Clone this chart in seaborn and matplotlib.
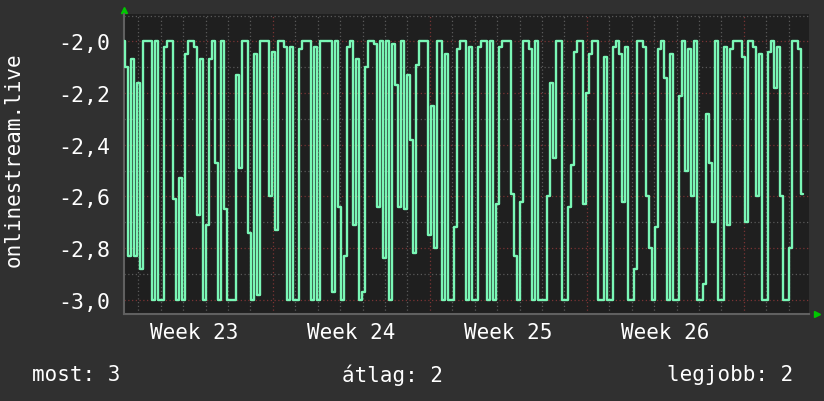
import matplotlib
matplotlib.use("Agg")
import matplotlib.pyplot as plt
import matplotlib.dates as mdates
import matplotlib.ticker as mticker
import numpy as np
import pandas as pd
import seaborn as sns

# values, one sample every ~3.2 h
values = [
    # 3 Jun -> 8 Jun
    -2.0, -2.1, -2.83, -2.07, -2.83, -2.16, -2.88, -2.0, -2.0, -2.0,
    -3.0, -2.0, -3.0, -3.0, -2.02, -2.0, -2.0, -2.61, -3.0, -2.53,
    -3.0, -2.05, -2.0, -2.0, -2.02, -2.67, -2.07, -3.0, -2.71, -2.07,
    -2.0, -2.47, -3.0, -2.0, -2.65, -3.0, -3.0, -3.0,
    # 8 Jun -> 13 Jun
    -2.13, -2.49, -2.0, -2.0, -2.74, -3.0, -2.05, -2.98, -2.0, -2.0,
    -2.0, -2.6, -2.04, -2.73, -2.0, -2.0, -2.02, -3.0, -2.02, -3.0,
    -3.0, -2.03, -2.0, -2.0, -2.0, -3.0, -2.02, -3.0, -2.0, -2.0,
    -2.0, -2.0, -2.97, -2.0, -2.64, -3.0, -2.83, -2.02, -2.0,
    # 13 Jun -> 18 Jun
    -2.71, -2.07, -3.0, -2.97, -2.1, -2.0, -2.0, -2.01, -2.64, -2.0,
    -2.84, -2.0, -3.0, -2.01, -2.17, -2.64, -2.0, -2.65, -2.13, -2.38,
    -2.82, -2.09, -2.0, -2.0, -2.0, -2.75, -2.25, -2.8, -2.0, -2.0,
    -3.0, -2.05, -3.0, -3.0, -2.72, -2.03, -2.0, -2.0,
    # 18 Jun -> 23 Jun
    -3.0, -2.02, -3.0, -3.0, -2.02, -2.0, -2.0, -3.0, -2.0, -3.0,
    -2.63, -2.02, -2.0, -2.0, -2.0, -2.59, -2.83, -3.0, -2.62, -2.0,
    -2.0, -2.03, -3.0, -2.0, -3.0, -3.0, -3.0, -2.6, -2.16, -2.45,
    -2.0, -2.0, -3.0, -3.0, -2.64, -2.48, -2.04, -2.0,
    # 23 Jun -> 28 Jun
    -2.0, -2.63, -2.2, -2.05, -2.0, -2.0, -3.0, -3.0, -2.06, -3.0,
    -3.0, -2.02, -2.0, -2.05, -2.62, -2.02, -3.0, -3.0, -2.88, -2.0,
    -2.0, -2.02, -2.6, -2.8, -3.0, -2.72, -2.03, -2.0, -2.14, -3.0,
    -2.05, -3.0, -3.0, -2.21, -2.0, -2.5, -2.03, -2.6, -2.0,
    # 28 Jun -> 3 Jul
    -3.0, -3.0, -2.94, -2.28, -2.47, -2.7, -2.0, -3.0, -3.0, -2.02,
    -2.71, -2.03, -2.0, -2.0, -2.0, -2.06, -2.7, -2.0, -2.0, -2.02,
    -2.6, -2.05, -3.0, -3.0, -2.04, -2.0, -2.18, -2.02, -2.6, -3.0,
    -3.0, -2.8, -2.0, -2.0, -2.03, -2.59,
]
start = "2024-06-03 08:40"
step = "192min"
week_starts = ["2024-06-10", "2024-06-17", "2024-06-24", "2024-07-01"]
week_labels = ["Week 23", "Week 24", "Week 25", "Week 26"]
x_end = "2024-07-03 21:40"
y_ticks = [-3.0, -2.8, -2.6, -2.4, -2.2, -2.0]
series_name = "onlinestream.live"
footer = ["most: 3", "átlag: 2", "legjobb: 2"]

df = pd.DataFrame({
    "time": pd.date_range(start, periods=len(values), freq=step),
    "value": values,
})

BG = "#303030"
PLOT_BG = "#1f1f1f"
LINE = "#7af7b6"
MONO = ["DejaVu Sans Mono"]

sns.set_theme(style="dark")
plt.rcParams["font.family"] = MONO

fig = plt.figure(figsize=(8.24, 4.02), dpi=100, facecolor=BG)
ax = fig.add_axes([124 / 824, 87 / 402, 685 / 824, 300 / 402])
ax.set_facecolor(PLOT_BG)

# RRD-style line: flat segments with sharp vertical jumps
sns.lineplot(data=df, x="time", y="value", ax=ax, color=LINE,
             linewidth=1.7, drawstyle="steps-mid", zorder=3)

t0 = pd.Timestamp(start)
ax.set_xlim(t0, pd.Timestamp(x_end))
ax.set_ylim(-3.055, -1.894)

# grid: grey dotted minor, red dotted major
ax.set_yticks(y_ticks)
ax.yaxis.set_minor_locator(mticker.MultipleLocator(0.1))
ax.yaxis.set_major_formatter(
    mticker.FuncFormatter(lambda v, _: f"{v:.1f}".replace(".", ",")))
ax.set_xticks(pd.to_datetime(week_starts))
ax.xaxis.set_minor_locator(mdates.DayLocator())
ax.set_xticklabels([])
ax.grid(which="minor", color="#5a5a5a", linestyle=(0, (1, 2)), linewidth=0.9)
ax.grid(which="major", color="#7a3434", linestyle=(0, (1, 2)), linewidth=0.9)
ax.set_axisbelow(True)

ax.tick_params(axis="y", which="major", colors="#606060", length=3,
               labelcolor="white", labelsize=15.5, pad=7)
ax.tick_params(axis="y", which="minor", length=0)
ax.tick_params(axis="x", which="major", colors="#8a2a2a", length=3,
               direction="out")
ax.tick_params(axis="x", which="minor", length=0)

for side in ["top", "right"]:
    ax.spines[side].set_visible(False)
for side in ["left", "bottom"]:
    ax.spines[side].set_color("#606060")
    ax.spines[side].set_linewidth(1.5)

# little green arrow heads at the ends of the axes
ax.plot([0], [1.012], marker="^", color="#00c800", markersize=5,
        transform=ax.transAxes, clip_on=False)
ax.plot([1.011], [0.0], marker=">", color="#00c800", markersize=5,
        transform=ax.transAxes, clip_on=False)

# week labels centred in each week
trans = ax.get_xaxis_transform()
for ws, lab in zip(week_starts, week_labels):
    mid = pd.Timestamp(ws) - pd.Timedelta(days=3.5)
    ax.text(mid, -0.06, lab, transform=trans, ha="center", va="center",
            color="white", fontsize=15)

ax.set_xlabel("")
ax.set_ylabel("")
fig.text(14 / 824, 1 - 160 / 402, series_name, rotation=90, ha="center",
         va="center", color="white", fontsize=15)

fig.text(32 / 824, 1 - 375 / 402, footer[0], ha="left", va="center",
         color="white", fontsize=15)
fig.text(392 / 824, 1 - 375 / 402, footer[1], ha="center", va="center",
         color="white", fontsize=15)
fig.text(793 / 824, 1 - 375 / 402, footer[2], ha="right", va="center",
         color="white", fontsize=15)

fig.savefig("out.png", dpi=100, facecolor=BG)
